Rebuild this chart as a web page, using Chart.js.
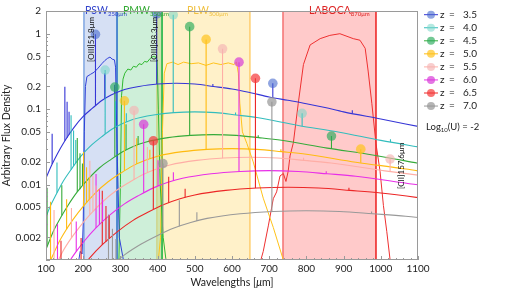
<!DOCTYPE html>
<html lang="en">
<head>
<meta charset="UTF-8">
<title>Model SEDs and filter bands</title>
<script src="https://cdn.jsdelivr.net/npm/chart.js"></script>
<style>
    body { margin: 0; background: #fff; }
    #wrap { width: 515px; height: 290px; }
</style>
</head>
<body>
<div id="wrap"><canvas id="sedChart" width="515" height="290"></canvas></div>
<script>
// axis ticks
const xTicks = [100, 200, 300, 400, 500, 600, 700, 800, 900, 1000, 1100];
const yTicks = [0.002, 0.005, 0.01, 0.02, 0.05, 0.1, 0.2, 0.5, 1, 2];

const redshifts = ['3.5', '4.0', '4.5', '5.0', '5.5', '6.0', '6.5', '7.0'];

// dust continuum per redshift, [wavelength um, flux]
const sed35 = [[100,0.0122],[115,0.018],[130,0.0253],[150,0.0376],[175,0.057],[200,0.080],[225,0.103],[250,0.130],[275,0.154],[300,0.174],[325,0.189],[350,0.200],[375,0.209],[400,0.215],[450,0.22],[500,0.215],[550,0.20],[600,0.185],[650,0.165],[700,0.145],[750,0.131],[800,0.118],[850,0.105],[900,0.092],[1000,0.074],[1100,0.059]];
const sed40 = [[89,0.0026],[100,0.0037],[111,0.0051],[128,0.0075],[144,0.0106],[167,0.0157],[194,0.0238],[222,0.0333],[250,0.0432],[278,0.0544],[306,0.0644],[333,0.0729],[389,0.0837],[444,0.0899],[500,0.092],[556,0.0899],[611,0.0837],[667,0.0773],[778,0.0607],[889,0.0493],[1000,0.0385],[1111,0.0309]];
const sed45 = [[98,0.0013],[110,0.00184],[122,0.00254],[141,0.00377],[159,0.00529],[183,0.00787],[214,0.0119],[244,0.0167],[275,0.0216],[306,0.0272],[336,0.0322],[367,0.0364],[428,0.0419],[489,0.0449],[550,0.046],[611,0.0449],[672,0.0419],[733,0.0386],[856,0.0304],[978,0.0247],[1100,0.0192]];
const sed50 = [[93,0.00054],[107,0.00085],[120,0.0012],[133,0.00166],[153,0.00246],[173,0.00345],[200,0.00513],[233,0.00777],[267,0.0109],[300,0.0141],[333,0.0177],[367,0.021],[400,0.0238],[467,0.0273],[533,0.0293],[600,0.030],[667,0.0293],[733,0.0273],[800,0.0252],[933,0.0198],[1067,0.0161],[1133,0.0143]];
const sed55 = [[101,0.00041],[116,0.00065],[130,0.00092],[144,0.00127],[166,0.00189],[188,0.00265],[217,0.00393],[253,0.00596],[289,0.00833],[325,0.0108],[361,0.0136],[397,0.0161],[433,0.0182],[505,0.0209],[578,0.0225],[650,0.023],[722,0.0225],[794,0.0209],[866,0.0193],[1011,0.0152],[1155,0.0123]];
const sed60 = [[93,0.000173],[109,0.000275],[124,0.000433],[140,0.000612],[156,0.000846],[179,0.00125],[202,0.00176],[233,0.00262],[272,0.00396],[311,0.00554],[350,0.00719],[389,0.00904],[428,0.0107],[467,0.0121],[544,0.0139],[622,0.0149],[700,0.0153],[778,0.0149],[856,0.0139],[933,0.0129],[1089,0.0101],[1167,0.0091]];
const sed65 = [[100,0.000104],[117,0.000166],[133,0.00026],[150,0.000368],[167,0.000509],[192,0.000754],[217,0.00106],[250,0.00157],[292,0.00238],[333,0.00333],[375,0.00432],[417,0.00544],[458,0.00644],[500,0.00729],[583,0.00837],[667,0.00899],[750,0.0092],[833,0.00899],[917,0.00837],[1000,0.00773],[1167,0.00607]];
const sed70 = [[107,0.000051],[142,0.000127],[178,0.000249],[204,0.000369],[231,0.000518],[267,0.00077],[311,0.00117],[356,0.00163],[400,0.00212],[444,0.00266],[489,0.00315],[533,0.00356],[622,0.0041],[711,0.0044],[800,0.0045],[889,0.0044],[978,0.0041],[1067,0.0038],[1156,0.0034]];

// emission lines per redshift, [wavelength, continuum level, line peak]
const lines35 = [[116.5,0.0187,0.047],[150.7,0.0381,0.198],[156.7,0.0418,0.125],[162,0.0462,0.092],[233,0.112,0.98],[258,0.1375,0.30],[284.4,0.162,0.21],[397.6,0.215,1.83],[548.6,0.20,0.216],[709.7,0.143,0.22],[923.4,0.088,0.097]];
const lines40 = [[129.5,0.0078,0.0196],[167.4,0.0159,0.083],[174.1,0.0175,0.052],[180,0.0193,0.039],[259,0.047,0.33],[286.5,0.0575,0.127],[316,0.0676,0.088],[442,0.0898,1.78],[609.5,0.0837,0.090],[788.5,0.0598,0.088],[1026,0.0368,0.040]];
const lines45 = [[102.9,0.00152,0.0091],[142.5,0.0039,0.0098],[184.1,0.008,0.0414],[191.4,0.0087,0.026],[198,0.0097,0.019],[285,0.0235,0.196],[315.2,0.0288,0.063],[347.6,0.0338,0.044],[486.2,0.0449,1.24],[670.5,0.0419,0.045],[867.4,0.0299,0.044]];
const lines50 = [[112.2,0.00099,0.0059],[155.4,0.00255,0.0064],[201,0.0052,0.027],[208.9,0.0057,0.017],[216,0.0063,0.0126],[310.8,0.0153,0.129],[343.8,0.0188,0.041],[379.2,0.0221,0.029],[530.4,0.0293,0.84],[731.4,0.0273,0.0295],[946.2,0.0195,0.0295]];
const lines55 = [[121.6,0.00076,0.0046],[168.4,0.00196,0.0049],[217.8,0.004,0.0207],[226.2,0.0044,0.0131],[234,0.0048,0.0097],[336.7,0.0117,0.096],[372.5,0.0144,0.0316],[410.8,0.0169,0.022],[574.6,0.0224,0.63],[792.4,0.0209,0.0226],[1025,0.015,0.0218]];
const lines60 = [[130.9,0.000505,0.003],[181.3,0.0013,0.00325],[234.5,0.00265,0.0138],[243.6,0.0029,0.0087],[252,0.0032,0.0064],[362.6,0.0078,0.063],[401.1,0.0096,0.021],[442.4,0.0112,0.0146],[618.8,0.0149,0.42],[853.3,0.0139,0.015]];
const lines65 = [[140.3,0.0003,0.0018],[194.3,0.00078,0.00196],[251.3,0.00159,0.0083],[261.2,0.00175,0.0052],[270,0.00193,0.0039],[388.5,0.0047,0.038],[429.8,0.00575,0.0127],[474,0.00676,0.0088],[663,0.009,0.256],[914.3,0.0084,0.0091]];
const lines70 = [[268,0.00078,0.004],[278.6,0.00086,0.0026],[288,0.00095,0.0019],[414.4,0.0023,0.019],[458.4,0.0028,0.0062],[505.6,0.0033,0.0043],[707.2,0.0044,0.125],[975.2,0.0041,0.0044]];

// marked lines: [OIII]51.8, [OIII]88.3, [CII]157.6
const marks35 = [[233,0.98],[397.6,1.83],[709.7,0.22]];
const marks40 = [[259,0.33],[442,1.78],[788.5,0.088]];
const marks45 = [[285,0.196],[486.2,1.24],[867.4,0.044]];
const marks50 = [[310.8,0.129],[530.4,0.84],[946.2,0.0295]];
const marks55 = [[336.7,0.096],[574.6,0.63],[1025,0.0218]];
const marks60 = [[362.6,0.063],[618.8,0.42]];
const marks65 = [[388.5,0.038],[663,0.256]];
const marks70 = [[414.4,0.019],[707.2,0.125]];

// filter transmission curves (scaled)
const pswCurve = [[185,0.0008],[192,0.0013],[197,0.0012],[200,0.003],[203,0.05],[206,0.2],[210,0.27],[220,0.29],[230,0.31],[240,0.35],[250,0.4],[258,0.44],[265,0.47],[272,0.49],[278,0.46],[284,0.45],[287,0.36],[289,0.1],[292,0.02],[297,0.002],[308,0.001],[312,0.0007]];
const pmwCurve = [[290,0.0006],[296,0.001],[300,0.01],[303,0.15],[307,0.25],[312,0.3],[320,0.34],[328,0.33],[335,0.37],[343,0.36],[350,0.4],[358,0.39],[365,0.43],[372,0.42],[380,0.47],[388,0.5],[395,0.49],[399,0.42],[402,0.1],[407,0.01],[415,0.002],[425,0.0008]];
const plwCurve = [[400,0.0008],[408,0.002],[413,0.05],[418,0.3],[425,0.4],[440,0.42],[455,0.39],[470,0.42],[490,0.4],[510,0.41],[530,0.38],[550,0.41],[570,0.39],[590,0.41],[605,0.39],[612,0.42],[617,0.3],[621,0.12],[628,0.05],[640,0.035],[657,0.02],[684,0.0066],[711,0.0027],[738,0.001],[745,0.0007]];
const labocaCurve = [[672,0.0008],[684,0.0013],[698,0.0029],[711,0.0065],[720,0.008],[729,0.013],[738,0.014],[745,0.011],[751,0.015],[756,0.024],[765,0.036],[778,0.118],[792,0.39],[810,0.71],[837,0.86],[863,0.95],[890,1.0],[926,0.86],[944,0.82],[958,0.64],[966,0.32],[976,0.118],[987,0.035],[998,0.015],[1007,0.0053],[1016,0.0024],[1025,0.001],[1030,0.0007]];

// band ranges [from, to] in um
const bandNames = ['PSW', 'PMW', 'PLW', 'LABOCA'];
const bandSubs = ['250μm', '350μm', '500μm', '870μm'];
const bandRanges = [[202, 291], [291, 412], [398, 648], [737, 987]];

// ---- styles ----
const lineColors = ['#3535d6', '#33bdbd', '#36ab3a', '#ffbb10', '#ffaea6', '#e82ee8', '#ec2626', '#999999'];
const markColors = ['rgba(70,105,205,0.6)', 'rgba(120,215,200,0.55)', 'rgba(40,170,90,0.65)', 'rgba(255,195,30,0.7)',
                    'rgba(245,180,180,0.65)', 'rgba(215,60,215,0.7)', 'rgba(245,55,55,0.7)', 'rgba(150,150,150,0.7)'];
const bandFill = ['rgba(50,100,200,0.2)', 'rgba(30,180,80,0.22)', 'rgba(255,200,40,0.25)', 'rgba(255,50,50,0.26)'];
const bandEdge = ['#4a80d6', '#2fb84f', '#ffd27a', '#ee3a3a'];
const filterColors = ['#3040d8', '#30b830', '#ffc21a', '#ee3030'];
const bandText = ['#3344cc', '#33aa33', '#f0c040', '#dd2222'];

const seds = [sed35, sed40, sed45, sed50, sed55, sed60, sed65, sed70];
const lines = [lines35, lines40, lines45, lines50, lines55, lines60, lines65, lines70];
const marks = [marks35, marks40, marks45, marks50, marks55, marks60, marks65, marks70];
const filters = [pswCurve, pmwCurve, plwCurve, labocaCurve];

const toXY = arr => arr.map(([x, y]) => ({ x, y }));

const datasets = [];

// bands behind everything
bandRanges.forEach(([a, b], i) => {
    datasets.push({
        data: [{ x: a, y: 1e-5 }, { x: a, y: 10 }, { x: b, y: 10 }, { x: b, y: 1e-5 }],
        borderColor: bandEdge[i], borderWidth: 1, backgroundColor: bandFill[i],
        fill: 'start', pointRadius: 0, tension: 0, order: 5
    });
});

filters.forEach((f, i) => {
    datasets.push({
        data: toXY(f), borderColor: filterColors[i], borderWidth: 1,
        pointRadius: 0, tension: 0, fill: false, order: 4
    });
});

seds.forEach((sed, i) => {
    datasets.push({
        data: toXY(sed), borderColor: lineColors[i], borderWidth: 1.1,
        pointRadius: 0, tension: 0.4, cubicInterpolationMode: 'monotone', fill: false, order: 3
    });
    const spikes = [];
    lines[i].forEach(([x, base, top]) => {
        spikes.push({ x, y: base }, { x, y: top }, { x, y: null });
    });
    datasets.push({
        data: spikes, borderColor: lineColors[i], borderWidth: 1.1,
        pointRadius: 0, tension: 0, spanGaps: false, fill: false, order: 2
    });
    datasets.push({
        data: toXY(marks[i]), showLine: false, pointRadius: 4.8,
        pointBackgroundColor: markColors[i], pointBorderWidth: 0, order: 1
    });
});

// text, frame, minor ticks and legend
const decor = {
    id: 'decor',
    afterDatasetsDraw(chart) {
        const ctx = chart.ctx;
        const xs = chart.scales.x;
        const labelX = [205, 307, 479, 807];
        ctx.save();
        ctx.textBaseline = 'alphabetic';
        bandNames.forEach((name, i) => {
            let px = xs.getPixelForValue(labelX[i]);
            ctx.fillStyle = bandText[i];
            ctx.font = '10.5px Lato';
            ctx.fillText(name, px, 14);
            px += ctx.measureText(name).width;
            ctx.font = '6px Lato';
            ctx.fillText(bandSubs[i], px, 16);
        });

        // rotated line labels
        const rot = [['[OIII]51.8μm', 221, 62], ['[OIII]88.3μm', 391, 62], ['[CII]157.6μm', 1055, 189]];
        ctx.fillStyle = '#111';
        ctx.font = '8px Lato';
        rot.forEach(([txt, wl, y0]) => {
            ctx.save();
            ctx.translate(xs.getPixelForValue(wl), y0);
            ctx.rotate(-Math.PI / 2);
            ctx.textAlign = 'left';
            ctx.textBaseline = 'middle';
            ctx.fillText(txt, 0, 0);
            ctx.restore();
        });
        ctx.restore();
    },
    afterDraw(chart) {
        const ctx = chart.ctx;
        const a = chart.chartArea;
        const xs = chart.scales.x, ys = chart.scales.y;
        ctx.save();
        ctx.strokeStyle = '#9a9a9a';
        ctx.lineWidth = 1;
        ctx.strokeRect(a.left + 0.5, a.top + 0.5, a.right - a.left - 1, a.bottom - a.top - 1);

        // inward ticks
        ctx.beginPath();
        for (let v = 100; v <= 1100; v += 20) {
            const px = Math.round(xs.getPixelForValue(v)) + 0.5;
            const len = v % 100 === 0 ? 4 : 2;
            ctx.moveTo(px, a.bottom);
            ctx.lineTo(px, a.bottom - len);
        }
        for (let d = 0.001; d < 2; d *= 10) {
            for (let m = 1; m <= 9; m++) {
                const v = m * d;
                if (v > 2.0001) break;
                const py = Math.round(ys.getPixelForValue(v)) + 0.5;
                const len = (m === 1 || m === 2 || m === 5) ? 4 : 2;
                ctx.moveTo(a.left, py);
                ctx.lineTo(a.left + len, py);
            }
        }
        ctx.stroke();

        // x axis title with italic mu
        ctx.fillStyle = '#222';
        ctx.textBaseline = 'middle';
        const t1 = 'Wavelengths [', t2 = 'μ', t3 = 'm]';
        ctx.font = '10.5px Lato';
        const w1 = ctx.measureText(t1).width, w3 = ctx.measureText(t3).width;
        ctx.font = 'italic 10.5px Lato';
        const w2 = ctx.measureText(t2).width;
        let tx = (a.left + a.right) / 2 - (w1 + w2 + w3) / 2;
        ctx.font = '10.5px Lato';
        ctx.fillText(t1, tx, 283);
        ctx.font = 'italic 10.5px Lato';
        ctx.fillText(t2, tx + w1, 283);
        ctx.font = '10.5px Lato';
        ctx.fillText(t3, tx + w1 + w2, 283);

        // legend
        redshifts.forEach((z, i) => {
            const y = 14.7 + 13.05 * i;
            ctx.strokeStyle = lineColors[i];
            ctx.beginPath();
            ctx.moveTo(424, y);
            ctx.lineTo(438, y);
            ctx.stroke();
            ctx.fillStyle = markColors[i];
            ctx.beginPath();
            ctx.arc(431, y, 4, 0, Math.PI * 2);
            ctx.fill();
            ctx.fillStyle = '#222';
            ctx.font = '10px Lato';
            ctx.fillText('z', 440, y);
            ctx.fillText('=', 449, y);
            ctx.fillText(z, 463, y);
        });
        ctx.font = '9.5px Lato';
        let lx = 426;
        ctx.fillText('Log', lx, 127);
        lx += ctx.measureText('Log').width;
        ctx.font = '6px Lato';
        ctx.fillText('10', lx, 130);
        lx += ctx.measureText('10').width;
        ctx.font = '9.5px Lato';
        ctx.fillText('(U) = -2', lx, 127);
        ctx.restore();
    }
};

Chart.defaults.font.family = 'Lato, "Open Sans", sans-serif';

new Chart(document.getElementById('sedChart'), {
    type: 'line',
    data: { datasets },
    options: {
        responsive: false,
        animation: false,
        layout: { padding: { top: 5, right: 97, bottom: 0, left: 0 } },
        plugins: { legend: { display: false }, tooltip: { enabled: false } },
        scales: {
            x: {
                type: 'linear', min: 100, max: 1100,
                afterBuildTicks: s => { s.ticks = xTicks.map(v => ({ value: v })); },
                afterFit: s => { s.height = 30; },
                grid: { display: false, drawTicks: false },
                border: { display: false },
                ticks: { padding: 3, color: '#222', font: { size: 10 }, maxRotation: 0, autoSkip: false, callback: v => String(v) }
            },
            y: {
                type: 'logarithmic', min: 0.001, max: 2,
                afterBuildTicks: s => { s.ticks = yTicks.map(v => ({ value: v })); },
                afterFit: s => { s.width = 46; },
                grid: { display: false, drawTicks: false },
                border: { display: false },
                ticks: { padding: 5, color: '#222', font: { size: 10 }, autoSkip: false, callback: v => String(v) },
                title: { display: true, text: 'Arbitrary Flux Density', color: '#222', font: { size: 10.5 }, padding: { top: 0, bottom: 0 } }
            }
        }
    },
    plugins: [decor]
});
</script>
</body>
</html>
